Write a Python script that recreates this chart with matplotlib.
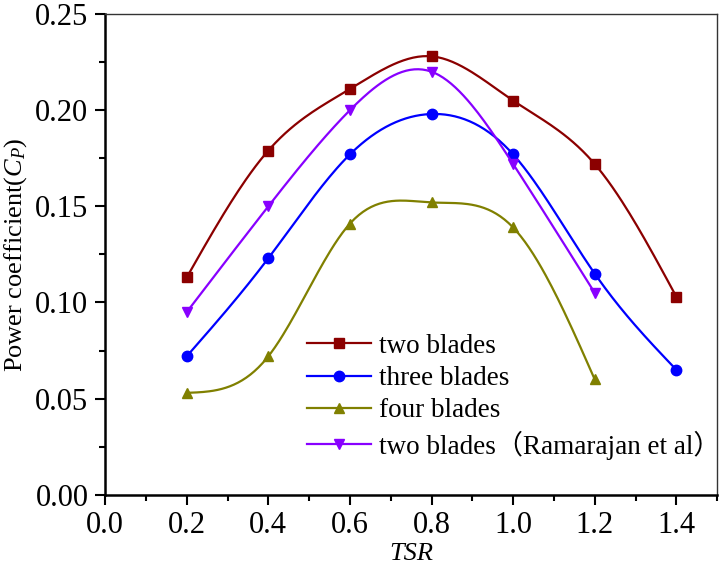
import numpy as np
import matplotlib
matplotlib.use('Agg')
import matplotlib.pyplot as plt
from matplotlib.ticker import MultipleLocator, FormatStrFormatter

plt.rcParams['font.family'] = ['Liberation Serif', 'Noto Sans CJK SC']
plt.rcParams['mathtext.fontset'] = 'custom'
plt.rcParams['mathtext.it'] = 'Liberation Serif:italic'
plt.rcParams['mathtext.rm'] = 'Liberation Serif'

# data
tsr_full = [0.2, 0.4, 0.6, 0.8, 1.0, 1.2, 1.4]
tsr_short = [0.2, 0.4, 0.6, 0.8, 1.0, 1.2]
cp_two = [0.113, 0.179, 0.211, 0.228, 0.205, 0.172, 0.103]
cp_three = [0.072, 0.123, 0.177, 0.198, 0.177, 0.115, 0.065]
cp_four = [0.053, 0.072, 0.141, 0.152, 0.139, 0.060]
cp_rama = [0.095, 0.150, 0.200, 0.220, 0.172, 0.105]


def natural_spline(x, y, n=200):
    # plain natural cubic spline, just for the smooth connecting line
    x = np.asarray(x, float)
    y = np.asarray(y, float)
    k = len(x)
    h = np.diff(x)
    A = np.zeros((k, k))
    b = np.zeros(k)
    A[0, 0] = A[-1, -1] = 1
    for i in range(1, k - 1):
        A[i, i - 1] = h[i - 1]
        A[i, i] = 2 * (h[i - 1] + h[i])
        A[i, i + 1] = h[i]
        b[i] = 3 * ((y[i + 1] - y[i]) / h[i] - (y[i] - y[i - 1]) / h[i - 1])
    c = np.linalg.solve(A, b)
    xs = np.linspace(x[0], x[-1], n)
    ys = np.empty_like(xs)
    for j, xv in enumerate(xs):
        i = min(np.searchsorted(x, xv, side='right') - 1, k - 2)
        d = xv - x[i]
        bb = (y[i + 1] - y[i]) / h[i] - h[i] * (2 * c[i] + c[i + 1]) / 3
        dd = (c[i + 1] - c[i]) / (3 * h[i])
        ys[j] = y[i] + bb * d + c[i] * d ** 2 + dd * d ** 3
    return xs, ys


series = [
    (tsr_full, cp_two, '#8b0000', 's', 'two blades'),
    (tsr_full, cp_three, '#0000ff', 'o', 'three blades'),
    (tsr_short, cp_four, '#808000', '^', 'four blades'),
    (tsr_short, cp_rama, '#8800ff', 'v', 'two blades\uff08Ramarajan et al\uff09'),
]

fig = plt.figure(figsize=(7.2, 5.72), dpi=100)
ax = fig.add_axes([0.146, 0.135, 0.85, 0.8405])

for x, y, col, mk, lab in series:
    xs, ys = natural_spline(x, y)
    ax.plot(xs, ys, color=col, lw=1.6)
    ax.plot(x, y, ls='none', marker=mk, color=col, ms=7.5)
    # legend proxy
    ax.plot([], [], color=col, lw=1.6, marker=mk, ms=7.5, label=lab)

ax.set_xlim(0, 1.5)
ax.set_ylim(0, 0.25)
ax.xaxis.set_major_locator(MultipleLocator(0.2))
ax.xaxis.set_minor_locator(MultipleLocator(0.1))
ax.yaxis.set_major_locator(MultipleLocator(0.05))
ax.yaxis.set_minor_locator(MultipleLocator(0.025))
ax.xaxis.set_major_formatter(FormatStrFormatter('%.1f'))
ax.yaxis.set_major_formatter(FormatStrFormatter('%.2f'))
ax.tick_params(which='both', direction='out', top=False, right=False,
               labelsize=22, width=1.5)
ax.tick_params(which='major', length=7, pad=5)
ax.tick_params(which='minor', length=4)
ax.spines['left'].set_linewidth(1.8)
ax.spines['bottom'].set_linewidth(1.8)
ax.spines['top'].set_linewidth(1.0)
ax.spines['right'].set_linewidth(1.0)
ax.spines['top'].set_color('#333333')
ax.spines['right'].set_color('#333333')

ax.set_xlabel('TSR', fontsize=19, fontstyle='italic', labelpad=2)
ax.set_ylabel('Power coefficient($C_P$)', fontsize=19)
ax.yaxis.set_label_coords(-0.125, 0.5)

ax.legend(loc='upper left', bbox_to_anchor=(0.33, 0.335), frameon=False,
          fontsize=19.5, handlelength=2.35, handletextpad=0.3,
          labelspacing=0.27, borderpad=0.0, borderaxespad=0.0)

fig.savefig('out.png', dpi=100)
